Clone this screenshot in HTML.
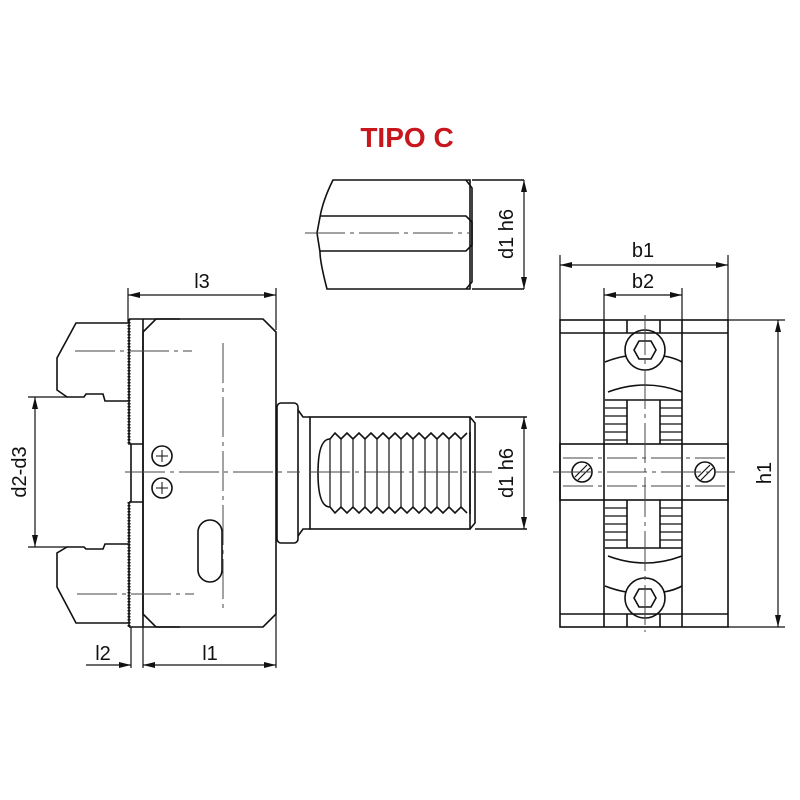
<!DOCTYPE html>
<html><head><meta charset="utf-8"><style>
html,body{margin:0;padding:0;background:#fff;}
svg{display:block}
text{font-family:"Liberation Sans",sans-serif;fill:#111;}
</style></head><body>
<svg width="800" height="800" viewBox="0 0 800 800" xmlns="http://www.w3.org/2000/svg">
<defs>
<marker id="a" viewBox="0 0 12 6" refX="12" refY="3" markerWidth="12" markerHeight="6" orient="auto-start-reverse" markerUnits="userSpaceOnUse"><path d="M0,0 L12,3 L0,6z" fill="#111"/></marker>
</defs>
<text x="407" y="147" font-size="28" font-weight="bold" text-anchor="middle" style="fill:#c8161d">TIPO C</text>

<g fill="none" stroke="#111" stroke-width="1.6">
<!-- Top pin -->
<path d="M333,180 L470,180 L470,289 L327,289 Q320,262 320,252 L317,233 L320,217 Q323,200 333,180Z"/>
<path d="M320,216 L466,216 L472,222 L472,245 L466,251 L320,251"/>
<path d="M466,180 L472,188 L472,282 L466,289"/>
<path d="M472,180 L524,180 M472,289 L524,289"/>
<line x1="524" y1="180" x2="524" y2="289" marker-start="url(#a)" marker-end="url(#a)" stroke-width="1.2"/>

<!-- Left view jaws -->
<path d="M128,323 L76,323 L57,358 L57,390 L67,397 L84,397 L86,394 L103,394 L105,401 L128,401"/>
<path d="M128,544 L105,544 L103,549 L86,549 L84,547 L67,547 L57,553 L57,587 L76,623 L128,623"/>
<!-- plates -->
<path d="M129,319 L180,319 M129,627 L180,627"/>
<path d="M129,319 L129,444 L143,444 M129,502 L129,627 M129,502 L143,502"/>
<path d="M131,444 L131,502" />
<path d="M129,319 L129,444" stroke-dasharray="1.5 1.5" stroke-width="3"/>
<path d="M129,502 L129,627" stroke-dasharray="1.5 1.5" stroke-width="3"/>
<path d="M143,319 L143,627"/>
<!-- body -->
<path d="M156,319 L263,319 L276,332 L276,614 L263,627 L156,627 L143,614 L143,332 Z"/>
<circle cx="162" cy="456" r="10"/><circle cx="162" cy="488" r="10"/>
<path d="M156,456 h12 M162,450 v12 M156,488 h12 M162,482 v12" stroke-width="1"/>
<rect x="198" y="520" width="24" height="62" rx="12"/>
<!-- hub -->
<rect x="277" y="403" width="21" height="140" rx="4"/>
<path d="M298,410 L303,417 L310,417 M298,536 L303,529 L310,529"/>
<rect x="310" y="417" width="160" height="112"/>
<path d="M470,417 L475,423 L475,523 L470,529"/>
<path d="M470,432 L470,514"/>
<path d="M330,439 Q318,439 318,473 Q318,507 330,507"/>
<path d="M330,439 L335,433 L341,439 L347,433 L353,439 L359,433 L365,439 L371,433 L377,439 L383,433 L389,439 L395,433 L401,439 L407,433 L413,439 L419,433 L425,439 L431,433 L437,439 L443,433 L449,439 L455,433 L461,439 L467,433"/>
<path d="M330,507 L335,513 L341,507 L347,513 L353,507 L359,513 L365,507 L371,513 L377,507 L383,513 L389,507 L395,513 L401,507 L407,513 L413,507 L419,513 L425,507 L431,513 L437,507 L443,513 L449,507 L455,513 L461,507 L467,513"/>
<path d="M330,439 V507 M341,439 V507 M353,439 V507 M365,439 V507 M377,439 V507 M389,439 V507 M401,439 V507 M413,439 V507 M425,439 V507 M437,439 V507 M449,439 V507 M461,439 V507" stroke-width="1.2"/>
<path d="M475,417 L527,417 M475,529 L527,529"/>
<line x1="524" y1="417" x2="524" y2="529" marker-start="url(#a)" marker-end="url(#a)" stroke-width="1.2"/>

<!-- left dims -->
<path d="M128,288 V322 M276,288 V330" stroke-width="1.2"/>
<line x1="128" y1="295" x2="276" y2="295" marker-start="url(#a)" marker-end="url(#a)" stroke-width="1.2"/>
<path d="M28,397 H68 M28,547 H68" stroke-width="1.2"/>
<line x1="35" y1="397" x2="35" y2="547" marker-start="url(#a)" marker-end="url(#a)" stroke-width="1.2"/>
<path d="M131,627 V668 M143,627 V668 M276,614 V668" stroke-width="1.2"/>
<line x1="86" y1="665" x2="131" y2="665" marker-end="url(#a)" stroke-width="1.2"/>
<line x1="143" y1="665" x2="276" y2="665" marker-start="url(#a)" marker-end="url(#a)" stroke-width="1.2"/>

<!-- Right view -->
<rect x="560" y="320" width="168" height="307"/>
<path d="M560,333 H604 M682,333 H728 M560,614 H604 M682,614 H728"/>
<path d="M604,320 V627 M682,320 V627"/>
<path d="M604,333 H682 M604,614 H682 M627,320 V333 M660,320 V333 M627,614 V627 M660,614 V627"/>
<rect x="560" y="444" width="168" height="56"/>
<circle cx="645" cy="350" r="20"/>
<polygon points="634,350 639,341 651,341 656,350 651,359 639,359"/>
<circle cx="645" cy="598" r="20"/>
<polygon points="634,598 639,589 651,589 656,598 651,607 639,607"/>
<path d="M605,362 Q615,358 626,356 M664,356 Q675,358 682,362"/>
<path d="M608,392 Q645,378 682,392 M605,400 H682"/>
<path d="M605,586 Q615,590 626,592 M664,592 Q675,590 682,586"/>
<path d="M608,556 Q645,570 682,556 M605,548 H682"/>
<path d="M627,400 V444 M660,400 V444 M627,500 V548 M660,500 V548"/>
<path d="M605,408 H627 M605,416 H627 M605,424 H627 M605,432 H627 M605,440 H627 M660,408 H682 M660,416 H682 M660,424 H682 M660,432 H682 M660,440 H682" stroke-width="1.2"/>
<path d="M605,508 H627 M605,516 H627 M605,524 H627 M605,532 H627 M605,540 H627 M660,508 H682 M660,516 H682 M660,524 H682 M660,532 H682 M660,540 H682" stroke-width="1.2"/>
<circle cx="582" cy="472" r="10"/><circle cx="705" cy="472" r="10"/>
<path d="M575,477 L587,465 M578,480 L590,468 M698,477 L710,465 M701,480 L713,468" stroke-width="1.2"/>
<!-- right dims -->
<path d="M560,255 V320 M728,255 V320 M604,288 V320 M682,288 V320 M728,320 H785 M728,627 H785" stroke-width="1.2"/>
<line x1="560" y1="265" x2="728" y2="265" marker-start="url(#a)" marker-end="url(#a)" stroke-width="1.2"/>
<line x1="604" y1="295" x2="682" y2="295" marker-start="url(#a)" marker-end="url(#a)" stroke-width="1.2"/>
<line x1="778" y1="320" x2="778" y2="627" marker-start="url(#a)" marker-end="url(#a)" stroke-width="1.2"/>
</g>

<!-- center lines -->
<g fill="none" stroke="#444" stroke-width="1" stroke-dasharray="40 5 4 5">
<path d="M305,233 H470"/>
<path d="M125,472 H300 M310,472 H492"/>
<path d="M75,351 H192 M77,594 H194"/>
<path d="M223,343 V612"/>
<path d="M553,472 H735"/>
<path d="M645,315 V632"/>
<path d="M563,458 H725 M563,486 H725" stroke-dasharray="30 5 4 5"/>
</g>

<g font-size="20">
<text x="202" y="288" text-anchor="middle">l3</text>
<text x="103" y="660" text-anchor="middle">l2</text>
<text x="210" y="660" text-anchor="middle">l1</text>
<text x="643" y="257" text-anchor="middle">b1</text>
<text x="643" y="288" text-anchor="middle">b2</text>
<text transform="translate(26,472) rotate(-90)" text-anchor="middle">d2-d3</text>
<text transform="translate(513,234) rotate(-90)" text-anchor="middle">d1 h6</text>
<text transform="translate(513,473) rotate(-90)" text-anchor="middle">d1 h6</text>
<text transform="translate(771,473) rotate(-90)" text-anchor="middle">h1</text>
</g>
</svg>
</body></html>
